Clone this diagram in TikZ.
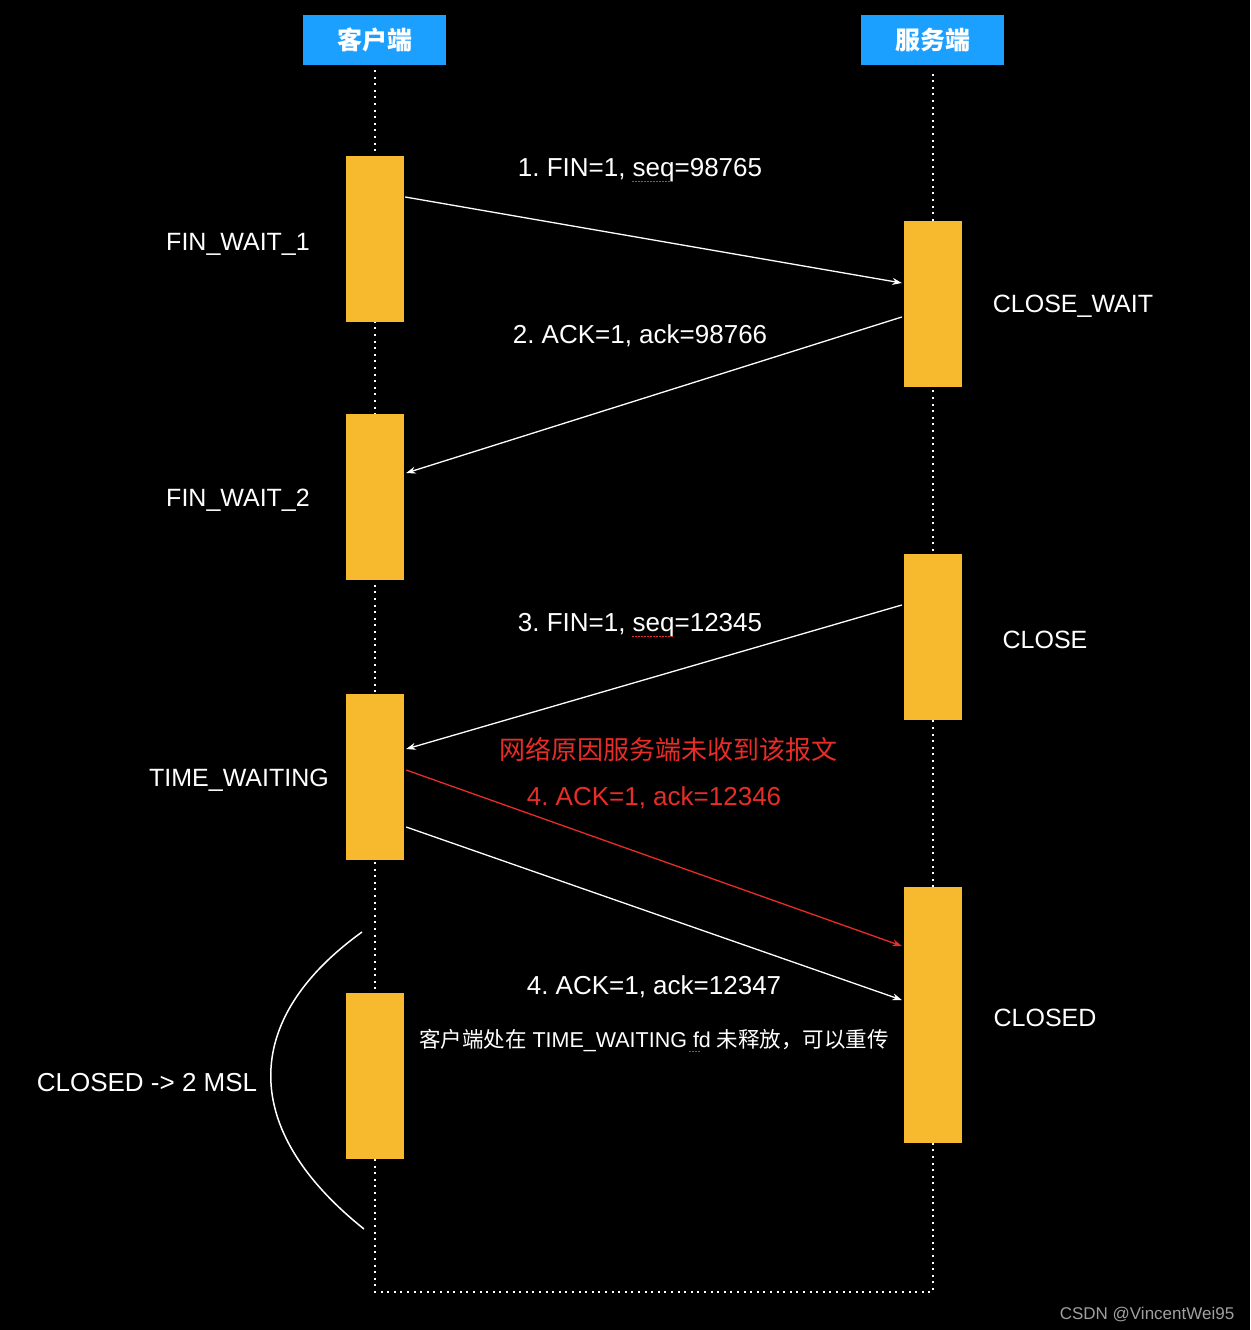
\documentclass[tikz,border=0pt]{standalone}
\usepackage{fontspec}
\setmainfont{Liberation Sans}
\newfontfamily\cjk{Noto Sans CJK SC}
\usetikzlibrary{arrows.meta}
\definecolor{hdrblue}{RGB}{28,160,255}
\definecolor{boxorange}{RGB}{247,185,45}
\definecolor{msgred}{RGB}{232,44,40}
\definecolor{wmgray}{RGB}{160,160,160}
\frenchspacing
\tikzset{
  header/.style={rectangle, fill=hdrblue, minimum width=143pt, minimum height=50pt, inner sep=0pt, text=white, font=\cjk\bfseries\fontsize{25}{28}\selectfont},
  statebox/.style={rectangle, fill=boxorange, minimum width=58pt, minimum height=166pt, inner sep=0pt},
  lifeline/.style={white, line width=2pt, dash pattern=on 2pt off 4.6pt},
  msg/.style={white, line width=1.3pt, -{Stealth[length=9.5pt,width=7pt]}},
  redmsg/.style={msgred, line width=1.3pt, -{Stealth[length=9.5pt,width=7pt]}},
  lbl/.style={text=white, inner sep=0pt, font=\fontsize{26}{30}\selectfont},
  statelbl/.style={text=white, inner sep=0pt, font=\fontsize{25}{29}\selectfont},
  redlbl/.style={text=msgred, inner sep=0pt, font=\fontsize{26}{30}\selectfont},
  smalllbl/.style={text=white, inner sep=0pt, font=\fontsize{21.5}{25}\selectfont},
  squiggle/.style={msgred, line width=1pt, dash pattern=on 1.5pt off 1.5pt},
}
\begin{document}
\begin{tikzpicture}[x=1pt,y=-1pt]
\fill[black] (0,0) rectangle (1250,1330);
\useasboundingbox (0,0) rectangle (1250,1330);
% headers
\node[header] (h1) at (374.5,40) {客户端};
\node[header] (h2) at (932.5,40) {服务端};
% lifeline ends
\coordinate (t1) at (375,70);
\coordinate (t2) at (933,70);
\coordinate (b1) at (375,1292);
\coordinate (b2) at (933,1292);
\draw[lifeline] (t1) -- (b1) -- (b2) -- (t2);
% client boxes
\node[statebox] (c1) at (375,239) {};
\node[statebox] (c2) at (375,497) {};
\node[statebox] (c3) at (375,777) {};
\node[statebox] (c4) at (375,1076) {};
% server boxes
\node[statebox] (s1) at (933,304) {};
\node[statebox] (s2) at (933,637) {};
\node[statebox, minimum height=256pt] (s3) at (933,1015) {};
% messages
\draw[msg] ([xshift=1pt,yshift=42pt]c1.east) -- ([xshift=-2pt,yshift=21pt]s1.west);
\draw[msg] ([xshift=-2pt,yshift=-13pt]s1.west) -- ([xshift=2pt,yshift=24pt]c2.east);
\draw[msg] ([xshift=-2pt,yshift=32pt]s2.west) -- ([xshift=2pt,yshift=28pt]c3.east);
\draw[redmsg] ([xshift=2pt,yshift=7pt]c3.east) -- ([xshift=-2pt,yshift=69pt]s3.west);
\draw[msg] ([xshift=2pt,yshift=-50pt]c3.east) -- ([xshift=-2pt,yshift=15pt]s3.west);
% message labels
\node[lbl] (m1) at (640,170) {1. FIN=1, seq=98765};
\node[lbl] (m2) at (640,336) {2. ACK=1, ack=98766};
\node[lbl] (m3) at (640,625) {3. FIN=1, seq=12345};
\node[redlbl] (m4a) at (668,749) {\cjk 网络原因服务端未收到该报文};
\node[redlbl] (m4) at (654,798) {4. ACK=1, ack=12346};
\node[lbl] (m5) at (654,987) {4. ACK=1, ack=12347};
\node[smalllbl] (m6) at (654,1040) {{\cjk 客户端处在} TIME\_WAITING fd {\cjk 未释放，可以重传}};
% spell-check squiggles
\draw[squiggle] (632,181) -- (673,181);
\draw[squiggle] (632,636) -- (673,636);
\draw[squiggle] (689,1051) -- (701,1051);
% state labels
\node[statelbl] (l1) at (238,244) {FIN\_WAIT\_1};
\node[statelbl] (l2) at (238,500) {FIN\_WAIT\_2};
\node[statelbl] (l3) at (239,780) {TIME\_WAITING};
\node[lbl] (l4) at (147,1083) {CLOSED -> 2 MSL};
\node[statelbl] (r1) at (1073,306) {CLOSE\_WAIT};
\node[statelbl] (r2) at (1045,640) {CLOSE};
\node[statelbl] (r3) at (1045,1018) {CLOSED};
% 2 MSL arc
\coordinate (a1) at (362,932);
\coordinate (a2) at (364,1229);
\draw[white, line width=1.5pt] (a1) .. controls (240,1020) and (240,1130) .. (a2);
% watermark
\node[text=wmgray, inner sep=0pt, font=\fontsize{17}{19}\selectfont] (wm) at (1147,1314) {CSDN @VincentWei95};
\end{tikzpicture}
\end{document}
